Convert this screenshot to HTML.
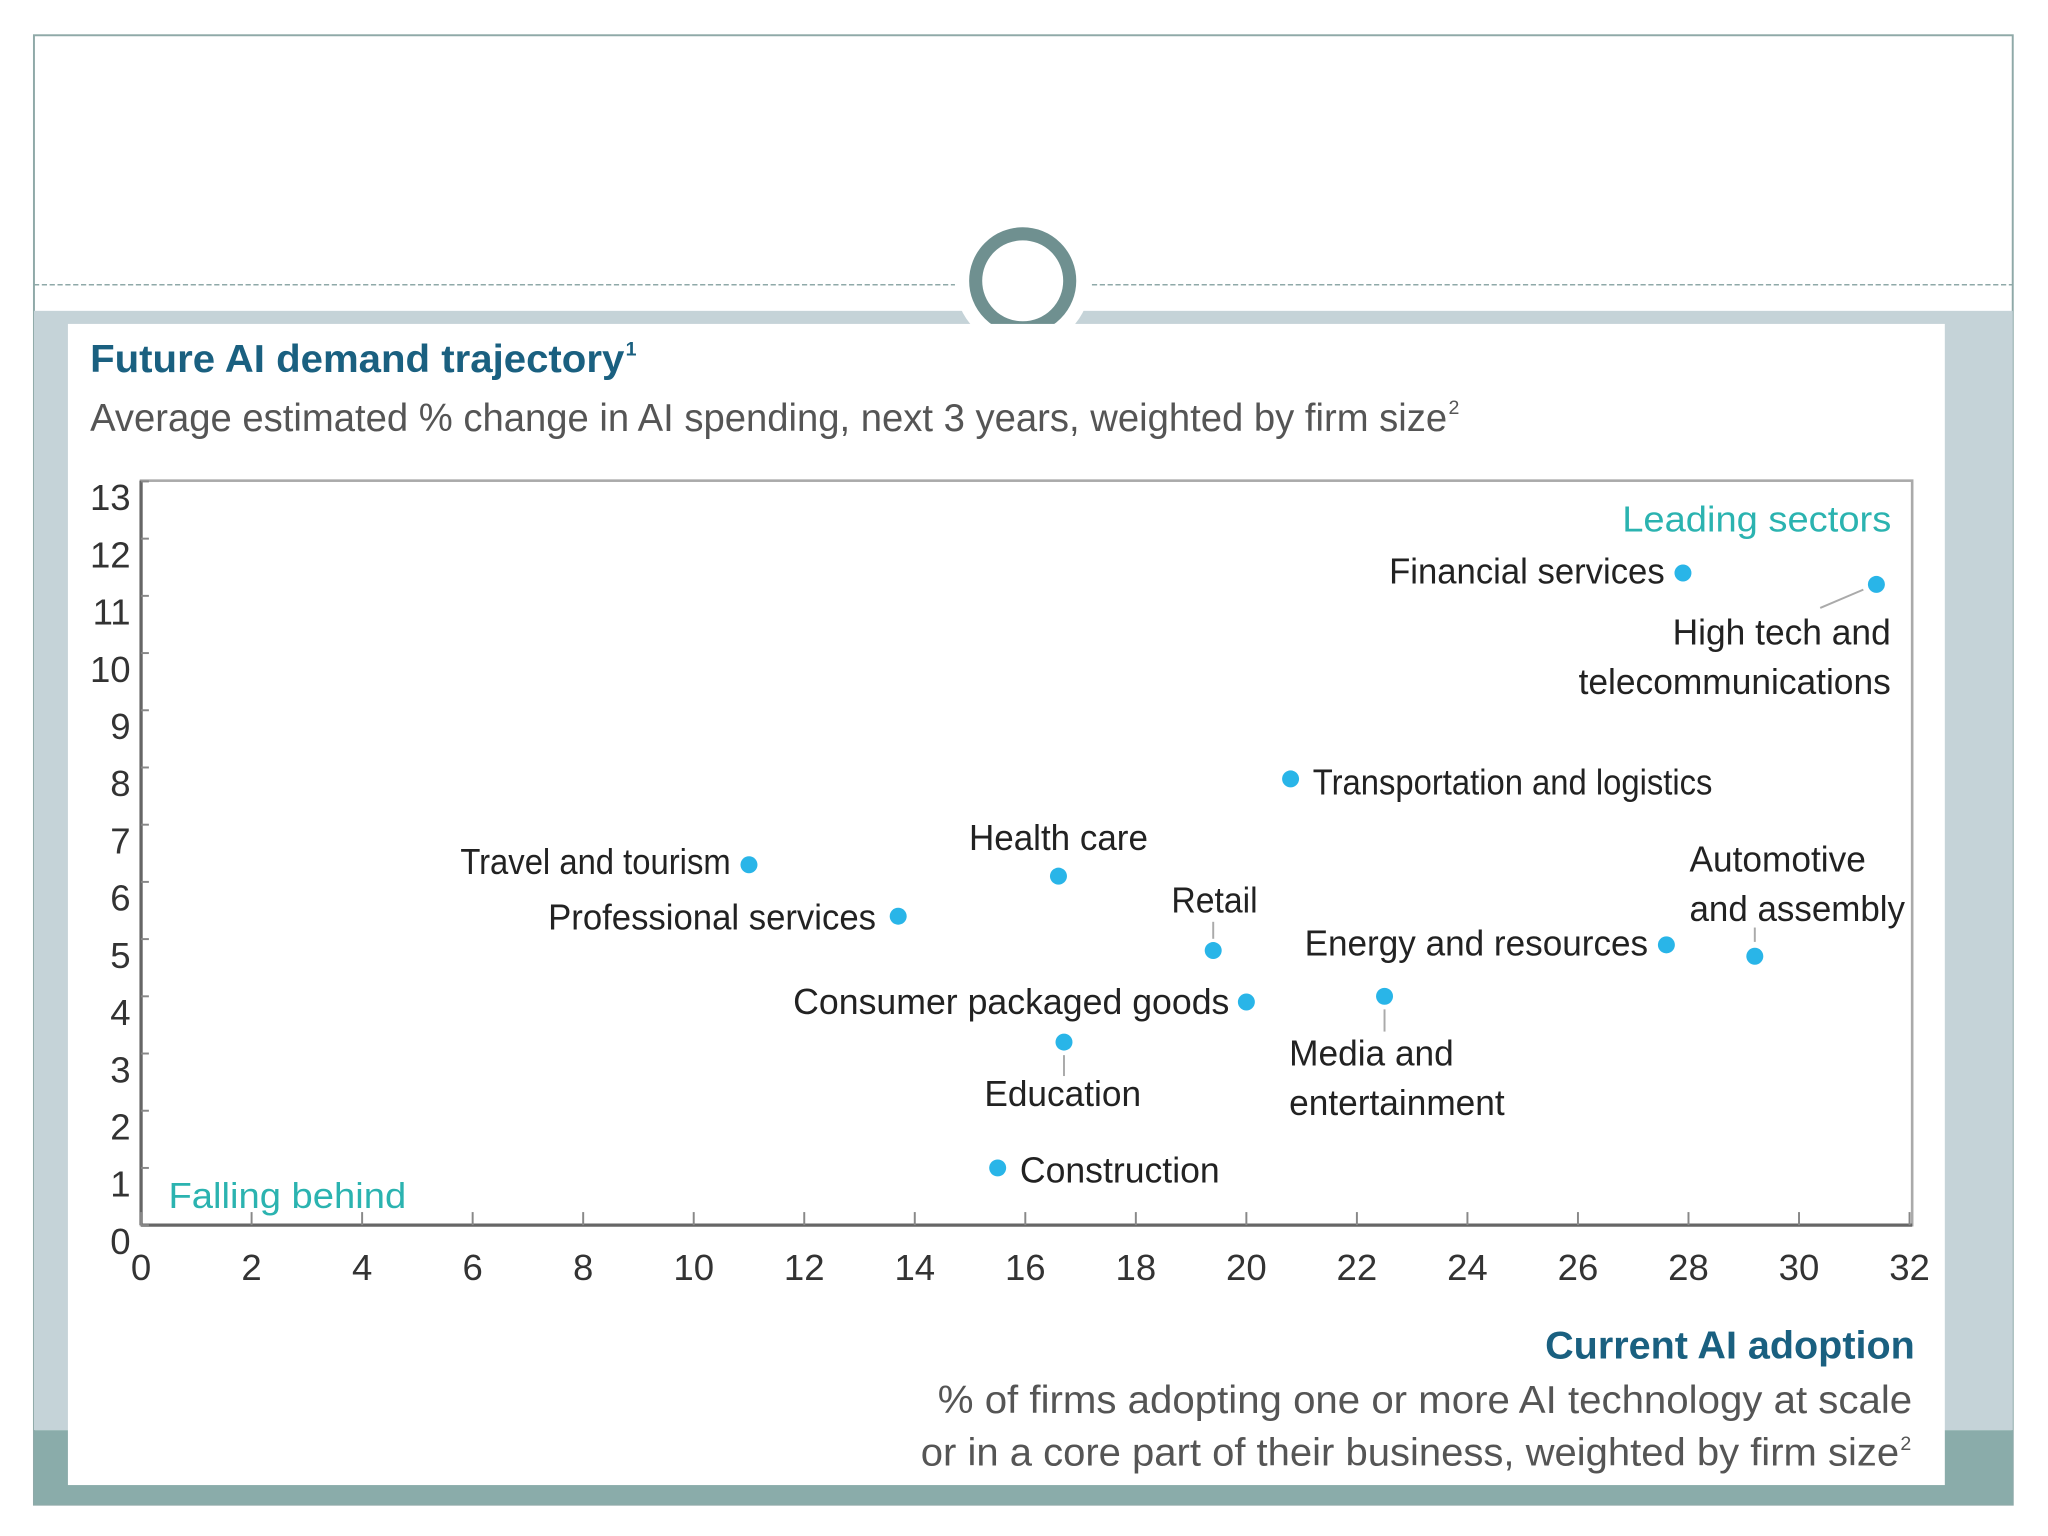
<!DOCTYPE html>
<html><head><meta charset="utf-8">
<style>
html,body{margin:0;padding:0;background:#fff;width:2048px;height:1536px;overflow:hidden}
svg{display:block}
text{font-family:"Liberation Sans",sans-serif}
</style></head>
<body>
<svg id="chart" width="2048" height="1536" viewBox="0 0 1568 1176" preserveAspectRatio="none" xmlns="http://www.w3.org/2000/svg">
  <rect x="0" y="0" width="1568" height="1176" fill="#fff"/>
  <rect x="26" y="27" width="1515" height="1125" fill="#fff" stroke="#8fa9a8" stroke-width="1.5"/>
  <line x1="26" y1="218" x2="1541" y2="218" stroke="#8fa9a8" stroke-width="1.2" stroke-dasharray="4,2"/>
  <rect x="26" y="238" width="1515" height="857" fill="#c5d3d8"/>
  <rect x="26" y="1095" width="1515" height="57" fill="#8aacaa"/>
  <circle cx="783" cy="215" r="52" fill="#fff"/>
  <circle cx="783" cy="215" r="36" fill="#fff" stroke="#6f9090" stroke-width="10"/>
  <rect x="52" y="248" width="1437" height="889" fill="#fff"/>

  <text x="69" y="285" font-size="30" font-weight="bold" fill="#1a6080" textLength="409" lengthAdjust="spacingAndGlyphs">Future AI demand trajectory</text>
  <text x="479" y="272" font-size="15" font-weight="bold" fill="#1a6080">1</text>
  <text x="69" y="330" font-size="30" fill="#555" textLength="1039" lengthAdjust="spacingAndGlyphs">Average estimated % change in AI spending, next 3 years, weighted by firm size</text>
  <text x="1109" y="317" font-size="15" fill="#555">2</text>

  <rect x="108" y="368" width="1356" height="570" fill="none" stroke="#aaa" stroke-width="2"/>
  <g id="axes"></g>
  <g id="marks"></g>

  <text x="1448" y="407" font-size="28" fill="#2bb3b0" text-anchor="end" textLength="206" lengthAdjust="spacingAndGlyphs">Leading sectors</text>
  <text x="129" y="925" font-size="28" fill="#2bb3b0" textLength="182" lengthAdjust="spacingAndGlyphs">Falling behind</text>

  <text x="1466" y="1040" font-size="30" font-weight="bold" fill="#1a6080" text-anchor="end" textLength="283" lengthAdjust="spacingAndGlyphs">Current AI adoption</text>
  <text x="1464" y="1082" font-size="30" fill="#555" text-anchor="end" textLength="746" lengthAdjust="spacingAndGlyphs">% of firms adopting one or more AI technology at scale</text>
  <text x="1454" y="1122" font-size="30" fill="#555" text-anchor="end" textLength="749" lengthAdjust="spacingAndGlyphs">or in a core part of their business, weighted by firm size</text>
  <text x="1455" y="1110" font-size="15" fill="#555">2</text>
</svg>
<script>
const sectors = ["Financial services","High tech and telecommunications","Transportation and logistics","Travel and tourism","Health care","Professional services","Retail","Energy and resources","Automotive and assembly","Consumer packaged goods","Media and entertainment","Education","Construction"];
const adoption = [27.9,31.4,20.8,11.0,16.6,13.7,19.4,27.6,29.2,20.0,22.5,16.7,15.5];
const demand = [11.4,11.2,7.8,6.3,6.1,5.4,4.8,4.9,4.7,3.9,4.0,3.2,1.0];
const xTicks = [0,2,4,6,8,10,12,14,16,18,20,22,24,26,28,30,32];
const yTicks = [0,1,2,3,4,5,6,7,8,9,10,11,12,13];

const NS="http://www.w3.org/2000/svg";
const X0=108,X1=1462,Y0=938,YU=43.8;
function xs(v){return X0+v*(X1-X0)/32;}
function ys(v){return Y0-v*YU;}
function mk(tag,attrs,parent,txt){const e=document.createElementNS(NS,tag);for(const k in attrs)e.setAttribute(k,attrs[k]);if(txt!==undefined)e.textContent=txt;parent.appendChild(e);return e;}
const axes=document.getElementById('axes'),marks=document.getElementById('marks');

let e=mk('line',{x1:X0,y1:368,x2:X0,y2:Y0,stroke:'#666','stroke-width':2.5},axes);


e=mk('line',{x1:X0,y1:Y0,x2:1464,y2:Y0,stroke:'#666','stroke-width':2.5},axes);



xTicks.forEach(t=>{
  const tk=mk('line',{x1:xs(t),y1:Y0,x2:xs(t),y2:Y0-10,stroke:'#888','stroke-width':1.5},axes);
  
  
  const lb=mk('text',{x:xs(t),y:980,'font-size':28,fill:'#333','text-anchor':'middle'},axes,String(t));
  
  
});
yTicks.forEach(t=>{
  const tk=mk('line',{x1:X0,y1:ys(t),x2:X0+6,y2:ys(t),stroke:'#888','stroke-width':1.5},axes);
  
  
  const lb=mk('text',{x:100,y:ys(t)+22,'font-size':28,fill:'#333','text-anchor':'end'},axes,String(t));
  
  
});

// label layout: [lines, dx, dy(first baseline), anchor, widths, leader [x1,y1,x2,y2] relative]
const layout=[
  [["Financial services"],-14,8,'end',[211],null],
  [["High tech and","telecommunications"],11,46,'end',[167,239],[-43,18,-10,4]],
  [["Transportation and logistics"],17,12,'start',[306],null],
  [["Travel and tourism"],-14,7,'end',[207],null],
  [["Health care"],0,-20,'middle',[137],null],
  [["Professional services"],-17,10,'end',[251],null],
  [["Retail"],1,-29,'middle',[66],[0,-22,0,-9]],
  [["Energy and resources"],-14,8,'end',[263],null],
  [["Automotive","and assembly"],-50,-65,'start',[135,165],[0,-22,0,-11]],
  [["Consumer packaged goods"],-13,9,'end',[334],null],
  [["Media and","entertainment"],-73,53,'start',[126,165],[0,10,0,27]],
  [["Education"],-1,49,'middle',[120],[0,10,0,26]],
  [["Construction"],17,11,'start',[153],null]
];
sectors.forEach((s,i)=>{
  const cx=xs(adoption[i]),cy=ys(demand[i]);
  const L=layout[i];
  if(L[5]){
    const ld=mk('line',{x1:cx+L[5][0],y1:cy+L[5][1],x2:cx+L[5][2],y2:cy+L[5][3],stroke:'#aaa','stroke-width':1.5},marks);
    
    
  }
  const d=mk('circle',{cx:cx,cy:cy,r:6.5,fill:'#29b5e8'},marks);
  
  
  L[0].forEach((ln,j)=>{
    const t=mk('text',{x:cx+L[1],y:cy+L[2]+j*38,'font-size':28,fill:'#222','text-anchor':L[3],textLength:L[4][j],lengthAdjust:'spacingAndGlyphs'},marks,ln);
    
    
  });
});
</script>
</body></html>
